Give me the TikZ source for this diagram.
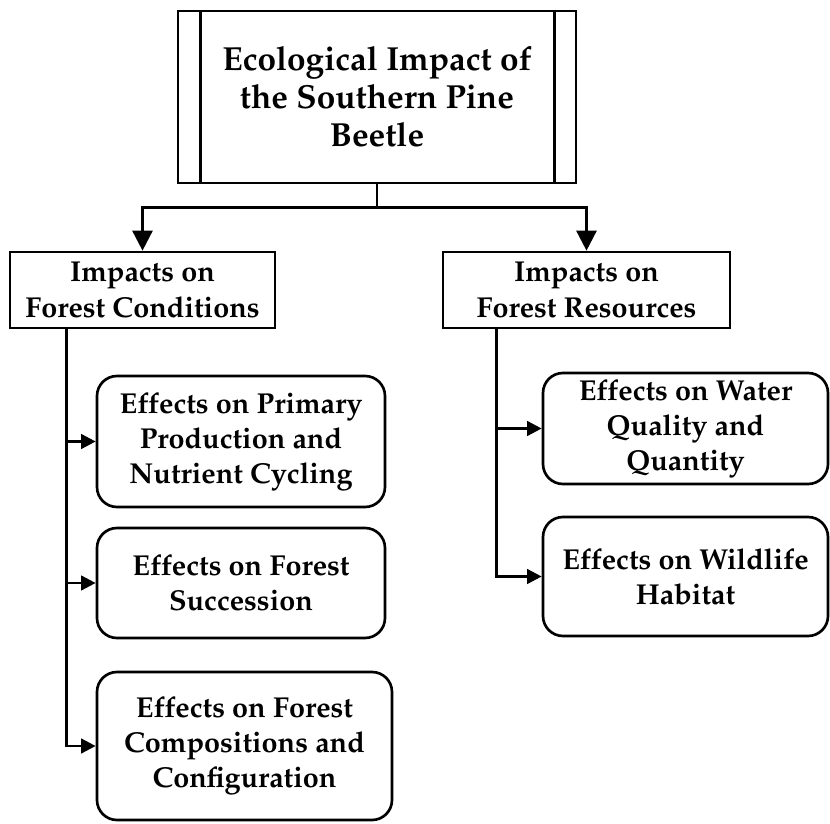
\documentclass[tikz,border=0pt]{standalone}
\usepackage[T1]{fontenc}
\usepackage{mathpazo}
\usepackage{tikz}
\usetikzlibrary{positioning,arrows.meta,calc}

\begin{document}
\begin{tikzpicture}[
            x=0.75pt, y=-0.75pt,
            line width=2pt,
            font=\fontsize{21.6}{26.3}\selectfont\bfseries,
            box/.style={
                    rectangle, draw, line width=2pt,
                    align=center, inner sep=2pt
                },
            headbox/.style={
                    box, minimum width=298.5pt, minimum height=129pt,
                    font=\fontsize{25}{28.5}\selectfont\bfseries
                },
            groupbox/.style={box, minimum height=57pt},
            effectbox/.style={box, rounded corners=15pt, minimum width=216pt},
            line/.style={draw, line width=2pt},
            arrow/.style={-{Triangle[length=15pt,width=15pt]}, line width=2pt},
            branch/.style={-{Triangle[length=11pt,width=11pt]}, line width=2pt}
            ]

            \useasboundingbox (0,0) rectangle (830,823);

            % ===== Title =====
            \node[headbox] (title) at (377,97) {Ecological Impact of\\the Southern Pine\\Beetle};
            \draw[line] ([xshift=18pt]title.north west) -- ([xshift=18pt]title.south west);
            \draw[line] ([xshift=-17pt]title.north east) -- ([xshift=-17pt]title.south east);

            % ===== Groups =====
            \node[groupbox, minimum width=198.75pt] (cond) at (142.5,290) {Impacts on\\Forest Conditions};
            \node[groupbox, minimum width=215.25pt] (res) at (586.5,290) {Impacts on\\Forest Resources};

            % ===== Effects on forest conditions =====
            \node[effectbox, minimum height=98.25pt] (prim) at (241,441.5) {Effects on Primary\\Production and\\Nutrient Cycling};
            \node[effectbox, minimum height=82.5pt] (succ) at (241,583) {Effects on Forest\\Succession};
            \node[effectbox, minimum width=221.25pt, minimum height=111pt] (comp) at (244.5,746) {Effects on Forest\\Compositions and\\Configuration};

            % ===== Effects on forest resources =====
            \node[effectbox, minimum width=213.75pt, minimum height=83.25pt] (water) at (685.5,428.5) {Effects on Water\\Quality and\\Quantity};
            \node[effectbox, minimum width=213.75pt, minimum height=89.25pt] (wild) at (685.5,576.5) {Effects on Wildlife\\Habitat};

            % ===== Title -> groups =====
            \coordinate (split) at ($(title.south)+(0,23)$);
            \draw[line] (title.south) -- (split);
            \draw[arrow] (split) -| (cond.north);
            \draw[arrow] (split) -| (res.north);

            % ===== Forest conditions -> effects =====
            \coordinate (ltrunk) at ([xshift=43.5pt]cond.south west);
            \draw[branch] (ltrunk) |- (prim.west);
            \draw[branch] (ltrunk) |- (succ.west);
            \draw[branch] (ltrunk) |- (comp.west);

            % ===== Forest resources -> effects =====
            \coordinate (rtrunk) at ([xshift=41.25pt]res.south west);
            \draw[branch] (rtrunk) |- (water.west);
            \draw[branch] (rtrunk) |- (wild.west);

        \end{tikzpicture}
\end{document}
